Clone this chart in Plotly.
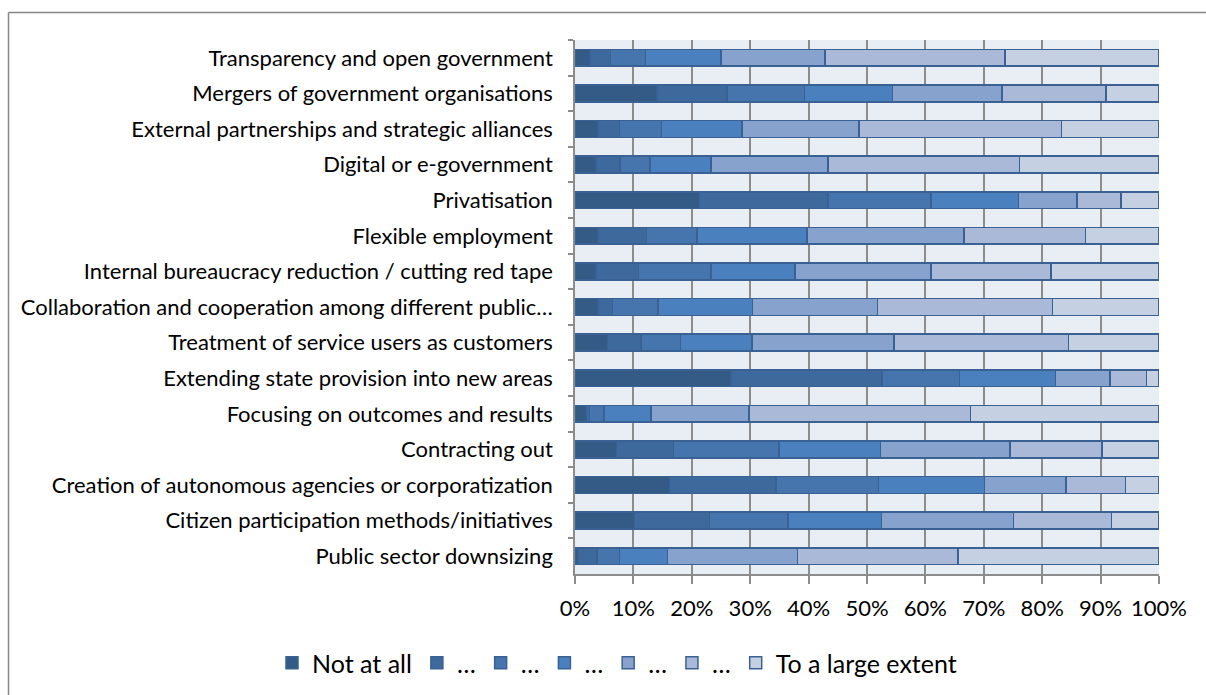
import plotly.graph_objects as go

# Reform categories, listed top to bottom
categories = [
    "Transparency and open government",
    "Mergers of government organisations",
    "External partnerships and strategic alliances",
    "Digital or e-government",
    "Privatisation",
    "Flexible employment",
    "Internal bureaucracy reduction / cutting red tape",
    "Collaboration and cooperation among different public…",
    "Treatment of service users as customers",
    "Extending state provision into new areas",
    "Focusing on outcomes and results",
    "Contracting out",
    "Creation of autonomous agencies or corporatization",
    "Citizen participation methods/initiatives",
    "Public sector downsizing",
]

# Response scale (share of respondents, %), one list per scale point
not_at_all = [2.6, 14.0, 3.9, 3.6, 21.3, 3.9, 3.6, 3.9, 5.6, 26.7, 2.0, 7.1, 16.2, 10.2, 0.5]
level_2 = [3.5, 12.0, 3.7, 4.1, 22.0, 8.3, 7.3, 2.5, 5.7, 25.9, 0.5, 9.8, 18.2, 12.8, 3.3]
level_3 = [6.0, 13.3, 7.2, 5.1, 17.7, 8.7, 12.4, 7.8, 6.8, 13.2, 2.5, 18.0, 17.6, 13.5, 3.8]
level_4 = [12.9, 15.1, 13.8, 10.5, 14.9, 18.8, 14.4, 16.2, 12.2, 16.5, 8.0, 17.4, 18.1, 16.0, 8.2]
level_5 = [17.8, 18.7, 20.0, 20.0, 10.1, 26.9, 23.3, 21.4, 24.3, 9.3, 16.8, 22.2, 14.0, 22.6, 22.3]
level_6 = [30.8, 17.8, 34.7, 32.8, 7.5, 20.8, 20.5, 30.0, 29.9, 6.3, 37.9, 15.7, 10.2, 16.8, 27.5]
large_extent = [26.4, 9.1, 16.7, 23.9, 6.5, 12.6, 18.5, 18.2, 15.5, 2.1, 32.3, 9.8, 5.7, 8.1, 34.4]

series_names = ["Not at all", "…", "…", "…", "…", "…", "To a large extent"]
series_values = [not_at_all, level_2, level_3, level_4, level_5, level_6, large_extent]
colors = ["#345A86", "#3D699C", "#4674AD", "#4A80BD", "#87A2CC", "#AAB9D7", "#C5D0E3"]

W, H = 1206, 695
ML, MR, MT, MB = 575, 47, 40, 121
FONT = "Lato"

fig = go.Figure()
for name, vals, col in zip(series_names, series_values, colors):
    fig.add_trace(go.Bar(
        y=categories, x=vals, name=name, orientation="h",
        marker=dict(color=col, line=dict(color="#3A6194", width=1.5)),
        hoverinfo="x+y",
    ))

pw, ph = W - ML - MR, H - MT - MB


def px_x(x):
    return (x - ML) / pw


def px_y(y):
    return (H - MB - y) / ph


# Chart frame (top and left edges visible)
fig.add_shape(type="line", xref="paper", yref="paper",
              x0=px_x(8.5), x1=px_x(W + 5), y0=px_y(12.5), y1=px_y(12.5),
              line=dict(color="#878787", width=1.5))
fig.add_shape(type="line", xref="paper", yref="paper",
              x0=px_x(8.5), x1=px_x(8.5), y0=px_y(12.5), y1=px_y(H + 5),
              line=dict(color="#878787", width=1.5))

fig.update_layout(
    width=W, height=H,
    margin=dict(l=ML, r=MR, t=MT, b=MB, pad=0, autoexpand=False),
    barmode="stack", barnorm="percent", bargap=0.53,
    paper_bgcolor="white", plot_bgcolor="#E9EDF4",
    font=dict(family=FONT, size=22, color="black"),
    showlegend=True,
    legend=dict(orientation="h", x=px_x(272), xanchor="left",
                y=px_y(663), yanchor="middle", font=dict(size=25),
                itemwidth=30, traceorder="normal", bgcolor="rgba(0,0,0,0)"),
    xaxis=dict(range=[0, 100], dtick=10, ticksuffix="%", showgrid=True,
               gridcolor="#8C8C8C", gridwidth=1.5, showline=True,
               linecolor="#8C8C8C", linewidth=1.5, ticks="outside",
               ticklen=8, tickcolor="#8C8C8C", tickwidth=1.5,
               tickfont=dict(size=22), ticklabelstandoff=6,
               zeroline=False, fixedrange=True),
    yaxis=dict(autorange="reversed", showline=True, linecolor="#8C8C8C",
               linewidth=1.5, ticks="outside", tickson="boundaries",
               ticklen=5, tickcolor="#8C8C8C", tickwidth=1.5,
               tickfont=dict(size=22), ticklabelstandoff=16,
               showgrid=False, fixedrange=True),
)

fig.write_html("out.html")
